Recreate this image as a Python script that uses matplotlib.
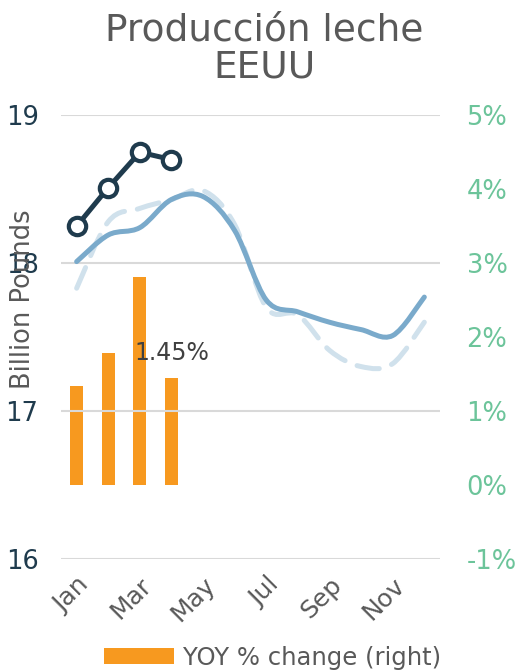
import numpy as np
import matplotlib.pyplot as plt
from matplotlib.path import Path
from matplotlib.patches import PathPatch

# Datos
meses = ['Jan', 'Feb', 'Mar', 'Apr', 'May', 'Jun', 'Jul', 'Aug', 'Sep', 'Oct', 'Nov', 'Dec']
prod_2022 = [17.83, 18.28, 18.37, 18.43, 18.49, 18.26, 17.70, 17.65, 17.41, 17.30, 17.32, 17.60]
prod_2023 = [18.01, 18.19, 18.24, 18.43, 18.45, 18.22, 17.75, 17.67, 17.60, 17.55, 17.51, 17.77]
prod_2024 = [18.25, 18.51, 18.75, 18.70]
yoy = [1.34, 1.78, 2.81, 1.45]

izq_ticks = [16, 17, 18, 19]
der_ticks = [-1, 0, 1, 2, 3, 4, 5]

gris = '#595959'
navy = '#1f3b4d'
verde = '#6cc49a'


def curva_suave(xs, ys):
    # curva tipo Excel "suavizada" (Catmull-Rom pasada a Bezier)
    p = np.column_stack([xs, ys]).astype(float)
    n = len(p)
    verts = [p[0]]
    codes = [Path.MOVETO]
    for i in range(n - 1):
        p0 = p[i - 1] if i > 0 else p[i]
        p1 = p[i]
        p2 = p[i + 1]
        p3 = p[i + 2] if i + 2 < n else p[i + 1]
        verts += [p1 + (p2 - p0) / 6, p2 - (p3 - p1) / 6, p2]
        codes += [Path.CURVE4] * 3
    return Path(verts, codes)


fig = plt.figure(figsize=(5.29, 6.70), dpi=100)
ax = fig.add_axes([0.115, 0.166, 0.717, 0.662])
ax2 = ax.twinx()

x = np.arange(len(meses))

# barras en eje derecho
ax2.bar(x[:len(yoy)], yoy, width=0.41, color='#f7991f', label='YOY % change (right)', zorder=1)
ax2.text(3, 1.78, '1.45%', ha='center', va='center', fontsize=17, color='#404040')
ax2.set_ylim(-1, 5)
ax2.set_yticks(der_ticks)
ax2.set_yticklabels([f'{t}%' for t in der_ticks], color=verde, fontsize=18.5)
ax2.tick_params(axis='y', length=0, pad=19)

# lineas en eje izquierdo, dibujadas encima
ax.set_zorder(ax2.get_zorder() + 1)
ax.patch.set_visible(False)
ax.add_patch(PathPatch(curva_suave(x, prod_2022), fill=False, edgecolor='#d0e1ec',
                       lw=3.6, linestyle=(0, (4.5, 2.6)), capstyle='round'))
ax.add_patch(PathPatch(curva_suave(x, prod_2023), fill=False, edgecolor='#7aaacb',
                       lw=3.6, capstyle='round'))
ax.plot(x[:len(prod_2024)], prod_2024, color=navy, lw=3.6, marker='o', ms=12.5,
        mfc='white', mec=navy, mew=3)

ax.set_xlim(-0.5, 11.5)
ax.set_ylim(16, 19)
ax.set_yticks(izq_ticks)
ax.set_yticklabels([str(t) for t in izq_ticks], color=navy, fontsize=18.5)
ax.tick_params(axis='y', length=0, pad=16)
ax.set_xticks(x[::2])
ax.set_xticklabels(meses[::2], rotation=45, ha='right', rotation_mode='anchor',
                   fontsize=18, color=gris)
ax.tick_params(axis='x', length=0, pad=10)
ax.grid(axis='y', color='#d9d9d9', lw=1.5)
ax.set_axisbelow(True)
ax.set_ylabel('Billion Pounds', fontsize=18.5, color=gris)
ax.yaxis.set_label_coords(-0.066, 0.585)

for a in (ax, ax2):
    for s in a.spines.values():
        s.set_visible(False)

fig.suptitle('Producción leche\nEEUU', fontsize=27, color=gris, y=0.982, linespacing=1.05)

fig.legend(loc='lower center', bbox_to_anchor=(0.515, -0.032), frameon=False, fontsize=17.5,
           handlelength=2.9, handleheight=0.6, handletextpad=0.35, labelcolor=gris)

fig.savefig('out.png', dpi=100)
